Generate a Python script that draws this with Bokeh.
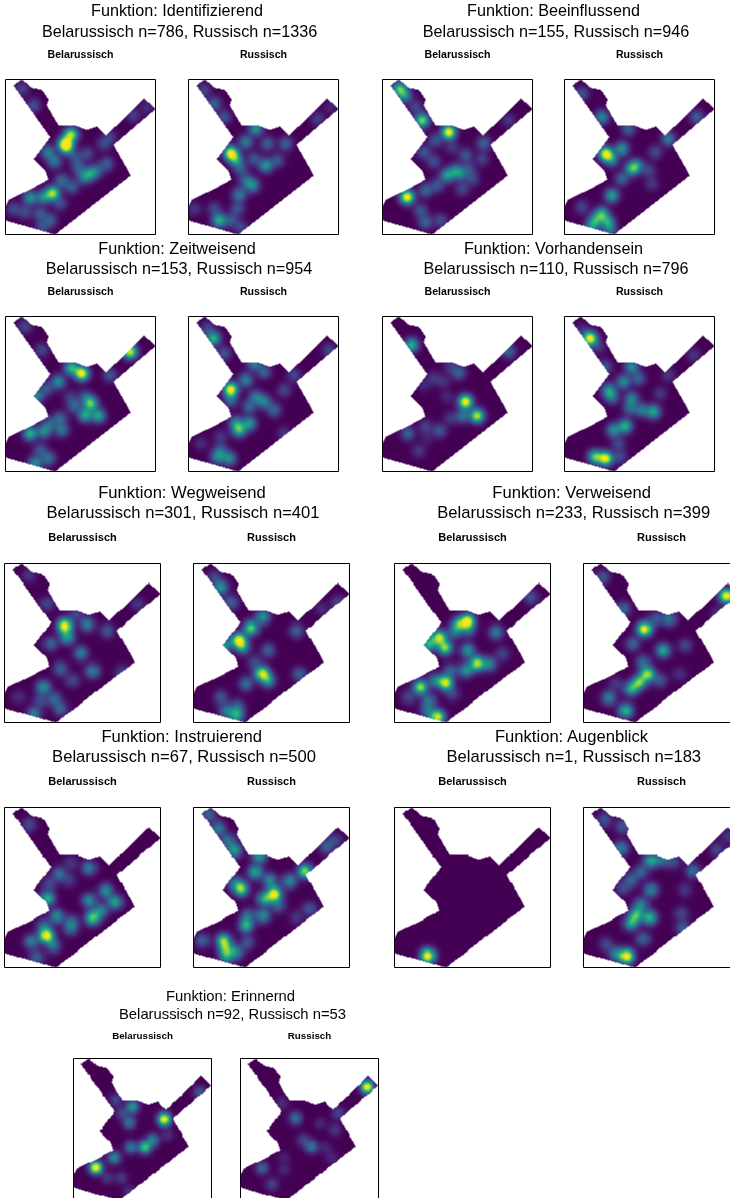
import numpy as np
from bokeh.embed import file_html
from bokeh.resources import INLINE
from bokeh.layouts import column
from bokeh.models import ColumnDataSource, LinearColorMapper, Range1d
from bokeh.palettes import Viridis256
from bokeh.plotting import figure
from bokeh.core.properties import value

FONT = "Liberation Sans"
MAP_W, MAP_H = 451, 465
SIGMA = 14.5

# Map outline, map units (y counted from the top of the map)
outline_x = [24, 49, 79, 109, 129, 124, 159, 209, 244, 274, 302, 416, 451, 324, 376, 149, 0, 0, 9, 79, 129, 119, 84, 134]
outline_y = [18, 0, 25, 31, 60, 78, 138, 138, 151, 141, 168, 58, 88, 196, 288, 465, 423, 383, 361, 328, 300, 273, 240, 173]

# Density peaks: (x, y, level)
identifizierend_bel = [(179,193,1.0),(197,165,.85),(185,205,.5),(127,218,.4),(147,246,.38),(142,341,.85),(114,353,.45),(74,355,.5),(254,283,.45),(234,293,.35),(169,303,.33),(304,253,.28),(274,273,.28),(244,223,.22),(209,233,.22),(84,78,.25),(49,28,.2),(24,388,.22),(59,398,.22),(104,403,.28),(134,423,.28),(109,443,.22),(219,263,.28),(294,193,.2),(384,108,.18),(424,83,.12),(314,173,.18),(199,323,.28),(164,373,.22)]
identifizierend_rus = [(127,221,1.0),(142,241,.5),(202,148,.5),(172,188,.4),(232,258,.5),(237,193,.3),(292,193,.3),(192,318,.45),(152,346,.4),(172,303,.3),(92,423,.6),(77,388,.2),(147,388,.25),(127,423,.25),(47,33,.2),(77,73,.3),(107,113,.25),(387,118,.18),(427,83,.1),(157,268,.25),(267,243,.25),(197,238,.25),(17,388,.15),(157,443,.2)]
beeinflussend_bel = [(51,28,.65),(67,48,.45),(119,123,.75),(99,83,.2),(199,158,1.0),(74,353,1.0),(159,183,.25),(124,218,.25),(154,246,.22),(194,288,.5),(219,273,.35),(249,228,.25),(234,283,.3),(259,268,.2),(269,298,.2),(129,333,.3),(164,318,.25),(239,328,.2),(114,393,.25),(129,428,.3),(174,423,.22),(304,191,.3),(379,123,.15),(209,203,.15),(299,238,.18)]
beeinflussend_rus = [(124,223,1.0),(142,241,.4),(172,208,.5),(112,113,.45),(52,43,.25),(202,268,.55),(217,258,.4),(142,348,.55),(172,298,.3),(92,423,.5),(112,403,.6),(130,428,.5),(80,445,.4),(136,453,.3),(312,178,.4),(192,148,.3),(397,113,.3),(272,218,.22),(252,273,.2),(52,383,.2),(262,313,.15)]
zeitweisend_bel = [(229,171,1.0),(197,154,.6),(159,196,.45),(124,216,.25),(94,239,.4),(374,106,.9),(314,176,.25),(109,101,.2),(59,31,.2),(256,261,.7),(206,268,.3),(239,296,.55),(279,298,.55),(239,241,.25),(74,351,.6),(116,344,.45),(169,341,.35),(164,306,.3),(134,321,.25),(129,426,.35),(104,401,.25),(89,441,.45),(194,241,.15)]
zeitweisend_rus = [(127,219,1.0),(75,66,.6),(152,341,.6),(182,321,.5),(142,319,.4),(172,191,.4),(197,141,.4),(127,251,.3),(227,256,.4),(202,241,.35),(257,281,.3),(182,271,.3),(287,221,.2),(107,111,.25),(57,36,.2),(122,426,.45),(87,421,.4),(97,401,.25),(422,101,.2),(317,176,.2),(287,351,.15),(37,381,.12),(227,166,.3),(97,361,.15)]
vorhandensein_bel = [(87,86,.6),(249,256,1.0),(284,298,.85),(241,298,.35),(229,169,.3),(204,151,.15),(154,186,.15),(184,196,.12),(124,206,.1),(76,351,.3),(129,331,.18),(171,343,.25),(109,403,.15),(379,106,.3),(204,306,.15),(134,366,.08),(194,241,.1)]
vorhandensein_rus = [(77,66,1.0),(92,421,.7),(124,426,.95),(202,151,.45),(177,196,.45),(222,186,.3),(132,221,.45),(142,241,.35),(202,246,.4),(267,286,.55),(182,329,.6),(147,341,.45),(197,276,.3),(232,281,.35),(122,151,.25),(102,91,.15),(287,231,.15),(312,176,.15),(387,116,.15),(162,381,.2),(52,41,.12),(167,421,.2)]
wegweisend_bel = [(174,182,1.0),(181,216,.5),(239,178,.4),(206,148,.2),(133,235,.3),(220,263,.4),(254,315,.4),(162,308,.3),(112,362,.45),(143,396,.3),(162,425,.3),(85,440,.4),(297,197,.25),(70,36,.15),(123,118,.2),(385,119,.15),(341,318,.2),(41,391,.12),(196,342,.2),(104,401,.2)]
wegweisend_rus = [(130,224,1.0),(142,245,.5),(166,189,.75),(200,156,.5),(79,70,.5),(108,114,.3),(60,41,.2),(198,321,.9),(215,342,.5),(152,352,.35),(215,255,.3),(306,323,.3),(297,197,.3),(123,445,.55),(94,430,.35),(127,420,.3),(79,391,.25),(417,114,.2),(369,133,.12),(89,240,.5),(176,289,.2)]
verweisend_bel = [(211,169,1.0),(186,179,.6),(128,216,.9),(99,237,.6),(146,247,.8),(172,202,.3),(239,292,.85),(206,312,.5),(211,255,.5),(148,349,.95),(119,342,.4),(75,362,.85),(124,448,.95),(99,401,.35),(41,391,.2),(293,201,.4),(273,294,.4),(312,265,.2),(394,99,.25),(162,313,.3),(167,381,.2),(94,430,.3),(215,197,.25)]
verweisend_rus = [(176,192,.95),(413,94,.95),(55,41,.25),(115,133,.3),(230,255,.55),(161,348,.7),(185,323,.75),(137,367,.55),(172,289,.3),(122,430,.6),(73,393,.4),(248,163,.35),(209,163,.25),(142,235,.3),(293,240,.2),(221,342,.25),(94,352,.15),(277,323,.12),(389,148,.15)]
instruierend_bel = [(121,373,1.0),(158,193,.35),(244,176,.4),(191,161,.15),(129,222,.2),(186,212,.15),(124,264,.6),(292,242,.45),(244,270,.45),(319,275,.55),(254,321,.7),(278,300,.4),(151,316,.45),(193,334,.3),(191,353,.25),(77,390,.4),(141,402,.35),(114,344,.3),(93,436,.3),(71,50,.22)]
instruierend_rus = [(234,251,1.0),(205,265,.6),(137,236,.8),(178,188,.55),(220,212,.45),(190,141,.5),(277,214,.45),(322,185,.8),(118,125,.5),(99,95,.35),(72,61,.4),(43,22,.3),(152,343,.6),(200,314,.45),(87,387,.75),(94,412,.55),(123,421,.4),(26,387,.3),(156,393,.25),(94,436,.4),(335,295,.25),(384,115,.3),(408,95,.2),(297,319,.15),(244,285,.3),(118,219,.3),(157,314,.3)]
augenblick_bel = [(96,431,1.0)]
augenblick_rus = [(125,432,1.0),(94,426,.4),(152,312,.6),(191,320,.6),(137,336,.55),(166,282,.4),(195,154,.55),(229,152,.3),(108,119,.4),(60,36,.25),(113,55,.25),(195,240,.4),(137,211,.3),(166,187,.3),(113,235,.2),(316,184,.35),(292,240,.15),(287,352,.3),(282,309,.2),(65,398,.2),(172,382,.3),(385,123,.2),(418,84,.15),(259,158,.2)]
erinnernd_bel = [(296,199,1.0),(73,357,1.0),(132,325,.45),(193,158,.5),(182,210,.35),(160,180,.2),(138,136,.2),(233,291,.65),(258,267,.4),(187,291,.35),(111,390,.15),(156,390,.15),(411,111,.25),(307,251,.12),(182,436,.12)]
erinnernd_rus = [(413,93,1.0),(179,196,.35),(232,289,.35),(205,267,.2),(70,359,.3),(102,412,.2),(309,234,.15),(260,213,.1),(277,293,.1),(298,325,.1),(135,147,.12),(141,365,.1),(141,325,.08),(319,179,.2)]

functions = ["Identifizierend", "Beeinflussend", "Zeitweisend", "Vorhandensein", "Wegweisend", "Verweisend", "Instruierend", "Augenblick", "Erinnernd"]
n_bel = [786, 155, 153, 110, 301, 233, 67, 1, 92]
n_rus = [1336, 946, 954, 796, 401, 399, 500, 183, 53]
peaks_bel = [identifizierend_bel, beeinflussend_bel, zeitweisend_bel, vorhandensein_bel, wegweisend_bel, verweisend_bel, instruierend_bel, augenblick_bel, erinnernd_bel]
peaks_rus = [identifizierend_rus, beeinflussend_rus, zeitweisend_rus, vorhandensein_rus, wegweisend_rus, verweisend_rus, instruierend_rus, augenblick_rus, erinnernd_rus]

# Layout of each group in page pixels
left_bel = [5, 382, 5, 382, 4, 394, 4, 394, 73]
left_rus = [188, 564, 188, 564, 193, 583, 193, 583, 240]
top_frame = [79, 79, 316, 316, 563, 563, 807, 807, 1058]
frame_w = [150, 150, 150, 150, 156, 156, 156, 156, 138]
frame_h = [155, 155, 155, 155, 159, 159, 160, 160, 142]
line1_x = [175.5, 552, 175.5, 552, 180.5, 570.2, 180.2, 570.5, 229]
line2_x = [178.1, 554.5, 177.5, 554.5, 181.5, 572.2, 182.5, 572.3, 231]
line1_y = [9.5, 9.5, 247.5, 247.5, 491.5, 491.5, 736, 736, 995]
line2_y = [30, 30, 267.5, 267.5, 512, 512, 756, 756, 1013]
title_px = [16.2, 16.2, 16.2, 16.2, 16.6, 16.6, 16.6, 16.6, 14.8]
sub_px = [10.6, 10.6, 10.6, 10.6, 11, 11, 11, 11, 9.75]
sub_gap = [40, 40, 40, 40, 42, 42, 42, 42, 36]
HEAD = 62


def inside(gx, gy, px, py):
    px = np.asarray(px, float); py = np.asarray(py, float)
    qx = np.roll(px, -1); qy = np.roll(py, -1)
    res = np.zeros(gx.shape, bool)
    for ax, ay, bx, by in zip(px, py, qx, qy):
        if ay == by:
            continue
        cond = (ay > gy) != (by > gy)
        res ^= cond & (gx < (bx - ax) * (gy - ay) / (by - ay) + ax)
    return res


xs = np.arange(1.5, MAP_W, 3.0)
ys_top = np.arange(1.5, MAP_H, 3.0)
GX, GY = np.meshgrid(xs, ys_top)
MASK = inside(GX, GY, outline_x, outline_y)
mapper = LinearColorMapper(palette=Viridis256, low=0, high=1, nan_color="#00000000")


def panel(peaks, label, left, top, w, h, sub, gap):
    z = np.zeros(GX.shape)
    for px, py, lev in peaks:
        z += lev * np.exp(-((GX - px) ** 2 + (GY - py) ** 2) / (2 * SIGMA ** 2))
    # overlapping peaks saturate towards the top of the colour scale
    z = np.where(z < .85, z, .85 + .15 * (1 - np.exp(-(z - .85) / .15)))
    z = z / z[MASK].max()
    z = np.where(MASK, z, np.nan)[::-1]
    p = figure(frame_width=w, frame_height=h, x_range=Range1d(0, MAP_W), y_range=Range1d(0, MAP_H),
               x_axis_type=None, y_axis_type=None, toolbar_location=None, output_backend="svg",
               min_border_left=1, min_border_right=1, min_border_bottom=1, min_border_top=HEAD,
               title=label, title_location="above",
               styles={"position": "absolute", "left": f"{left - 1}px", "top": f"{top - HEAD}px"})
    p.grid.visible = False
    p.outline_line_color = "black"
    p.outline_line_alpha = 1
    p.outline_line_width = 1
    p.border_fill_color = None
    p.title.align = "center"
    p.title.text_font = FONT
    p.title.text_font_size = f"{sub}px"
    p.title.text_font_style = "bold"
    p.title.text_color = "black"
    p.title.standoff = gap
    p.image(image=[z], x=0, y=0, dw=MAP_W, dh=MAP_H, color_mapper=mapper)
    return p


tx, ty, tt, ts = [], [], [], []
for i, f in enumerate(functions):
    tx += [line1_x[i], line2_x[i]]
    ty += [line1_y[i], line2_y[i]]
    tt += [f"Funktion: {f}", f"Belarussisch n={n_bel[i]}, Russisch n={n_rus[i]}"]
    ts += [f"{title_px[i]}px"] * 2

page = figure(frame_width=730, frame_height=1198, x_range=Range1d(0, 730), y_range=Range1d(1198, 0),
              x_axis_type=None, y_axis_type=None, toolbar_location=None, output_backend="svg",
              min_border=0, outline_line_color=None, background_fill_color=None, border_fill_color=None,
              styles={"position": "absolute", "left": "0px", "top": "0px"})
page.grid.visible = False
page.text(x="x", y="y", text="t", text_font_size="s", text_font=value(FONT), text_align="center",
          text_baseline="middle", text_color="black",
          source=ColumnDataSource(dict(x=tx, y=ty, t=tt, s=ts)))

kids = [page]
for i in range(len(functions)):
    kids.append(panel(peaks_bel[i], "Belarussisch", left_bel[i], top_frame[i], frame_w[i], frame_h[i], sub_px[i], sub_gap[i]))
    kids.append(panel(peaks_rus[i], "Russisch", left_rus[i], top_frame[i], frame_w[i], frame_h[i], sub_px[i], sub_gap[i]))

root = column(children=kids, width=730, height=1198,
              styles={"position": "fixed", "left": "0px", "top": "0px", "overflow": "hidden"})
open("out.html", "w").write(file_html(root, INLINE))
